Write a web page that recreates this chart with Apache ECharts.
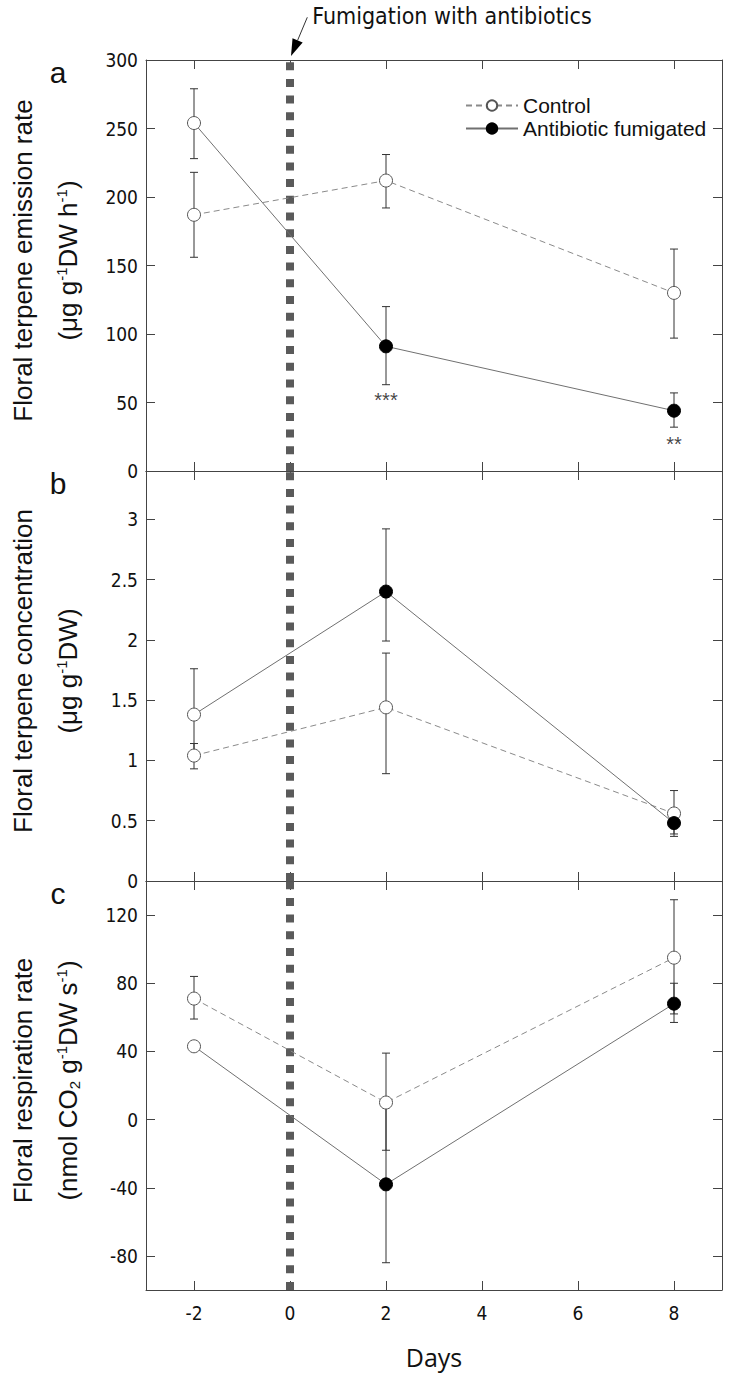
<!DOCTYPE html>
<html>
<head>
<meta charset="utf-8">
<script src="https://cdn.jsdelivr.net/npm/echarts@6/dist/echarts.min.js"></script>
<style>
html,body{margin:0;padding:0;background:#fff;}
#chart{width:731px;height:1381px;}
</style>
</head>
<body>
<div id="chart"></div>
<script>
// ---------------- data ----------------
const days = [-2, 2, 8];
const xTicks = [-2, 0, 2, 4, 6, 8];
const fumigationDay = 0;

const emisTicks = [0, 50, 100, 150, 200, 250, 300];
const emisControl = [187, 212, 130];
const emisControlLo = [156, 192, 97];
const emisControlHi = [218, 231, 162];
const emisAnti = [254, 91, 44];
const emisAntiLo = [228, 63, 32];
const emisAntiHi = [279, 120, 57];
const sigDays = [2, 8];
const sigY = [52, 20];
const sigText = ['***', '**'];

const concTicks = [0, 0.5, 1, 1.5, 2, 2.5, 3];
const concControl = [1.04, 1.44, 0.56];
const concControlLo = [0.93, 0.89, 0.37];
const concControlHi = [1.14, 1.89, 0.75];
const concAnti = [1.38, 2.40, 0.48];
const concAntiLo = [1.00, 1.99, 0.39];
const concAntiHi = [1.76, 2.92, 0.57];

const respTicks = [-80, -40, 0, 40, 80, 120];
const respControl = [71, 10, 95];
const respControlLo = [59, -18, 62];
const respControlHi = [84, 39, 129];
const respAnti = [43, -38, 68];
const respAntiLo = [43, -84, 57];
const respAntiHi = [43, 7, 80];

const seriesNames = ['Control', 'Antibiotic fumigated'];

// ---------------- styling ----------------
const FN = "'Liberation Sans Narrow','Arial Narrow','DejaVu Sans Condensed',sans-serif";
const FS = "'Liberation Sans',Arial,sans-serif";
const AX = '#444';

const panels = [
  {min: 0, max: 300, ticks: emisTicks, ctl: emisControl, ctlLo: emisControlLo, ctlHi: emisControlHi,
   ab: emisAnti, abLo: emisAntiLo, abHi: emisAntiHi, top: 60, height: 411},
  {min: 0, max: 3.4, ticks: concTicks, ctl: concControl, ctlLo: concControlLo, ctlHi: concControlHi,
   ab: concAnti, abLo: concAntiLo, abHi: concAntiHi, top: 471, height: 410},
  {min: -100, max: 140, ticks: respTicks, ctl: respControl, ctlLo: respControlLo, ctlHi: respControlHi,
   ab: respAnti, abLo: respAntiLo, abHi: respAntiHi, top: 881, height: 409}
];

const grids = [], xAxes = [], yAxes = [], series = [];

function errRender(params, api) {
  const x = api.value(0), lo = api.value(1), hi = api.value(2);
  if (lo === hi) return null;
  const a = api.coord([x, lo]), b = api.coord([x, hi]);
  const c = 4;
  const st = {stroke: '#333', lineWidth: 1};
  return {type: 'group', children: [
    {type: 'line', shape: {x1: a[0], y1: a[1], x2: b[0], y2: b[1]}, style: st},
    {type: 'line', shape: {x1: a[0] - c, y1: a[1], x2: a[0] + c, y2: a[1]}, style: st},
    {type: 'line', shape: {x1: b[0] - c, y1: b[1], x2: b[0] + c, y2: b[1]}, style: st}
  ]};
}

panels.forEach((p, k) => {
  grids.push({left: 146, width: 576, top: p.top, height: p.height, containLabel: false, outerBoundsMode: 'none'});
  const isLast = k === panels.length - 1;
  const baseX = {type: 'value', gridIndex: k, min: -3, max: 9,
    axisLine: {show: true, onZero: false, lineStyle: {color: AX, width: 1}},
    axisTick: {show: true, inside: true, length: 9, customValues: xTicks, lineStyle: {color: AX}},
    splitLine: {show: false}};
  xAxes.push(Object.assign({}, baseX, {position: 'bottom',
    axisLabel: {show: isLast, customValues: xTicks, margin: 13, fontSize: 19, fontFamily: FN, color: '#111'},
    name: isLast ? 'Days' : '', nameLocation: 'middle', nameGap: 54,
    nameTextStyle: {fontSize: 25, fontFamily: "'Open Sans',sans-serif", color: '#111'}}));
  xAxes.push(Object.assign({}, baseX, {position: 'top', axisLabel: {show: false}}));
  const baseY = {type: 'value', gridIndex: k, min: p.min, max: p.max,
    axisLine: {show: true, onZero: false, lineStyle: {color: AX, width: 1}},
    axisTick: {show: true, inside: true, length: 9, customValues: p.ticks, lineStyle: {color: AX}},
    splitLine: {show: false}};
  yAxes.push(Object.assign({}, baseY, {position: 'left',
    axisLabel: {show: true, customValues: p.ticks, margin: 8, fontSize: 19, fontFamily: FN, color: '#111'}}));
  yAxes.push(Object.assign({}, baseY, {position: 'right', axisLabel: {show: false}}));

  const xi = 2 * k, yi = 2 * k;
  // error bars
  series.push({type: 'custom', xAxisIndex: xi, yAxisIndex: yi, z: 1, silent: true,
    renderItem: errRender, encode: {x: 0, y: [1, 2]},
    data: days.map((d, i) => [d, p.ctlLo[i], p.ctlHi[i]])});
  series.push({type: 'custom', xAxisIndex: xi, yAxisIndex: yi, z: 1, silent: true,
    renderItem: errRender, encode: {x: 0, y: [1, 2]},
    data: days.map((d, i) => [d, p.abLo[i], p.abHi[i]])});
  // control
  series.push({name: seriesNames[0], type: 'line', xAxisIndex: xi, yAxisIndex: yi, z: 3,
    symbol: 'circle', symbolSize: 13, showAllSymbol: true,
    lineStyle: {color: '#8a8a8a', width: 1, type: [6, 4]},
    itemStyle: {color: '#fff', borderColor: '#555', borderWidth: 1},
    data: days.map((d, i) => [d, p.ctl[i]]),
    markLine: {silent: true, symbol: ['none', 'none'], label: {show: false}, z: 2,
      lineStyle: {color: '#5a5a5a', width: 8, type: [8, 8.7]},
      data: [{xAxis: fumigationDay}]}});
  // antibiotic
  series.push({name: seriesNames[1], type: 'line', xAxisIndex: xi, yAxisIndex: yi, z: 4,
    symbol: 'circle', symbolSize: 13, showAllSymbol: true,
    lineStyle: {color: '#707070', width: 1, type: 'solid'},
    itemStyle: {color: '#000', borderColor: '#000', borderWidth: 1},
    data: days.map((d, i) => d < fumigationDay
      ? {value: [d, p.ab[i]], itemStyle: {color: '#fff', borderColor: '#555'}}
      : [d, p.ab[i]])});
});

// significance asterisks (panel a)
series.push({type: 'scatter', xAxisIndex: 0, yAxisIndex: 0, symbolSize: 0, silent: true, z: 5,
  data: sigDays.map((d, i) => ({value: [d, sigY[i]], label: {formatter: sigText[i]}})),
  label: {show: true, position: 'inside', fontSize: 20, fontFamily: FS, color: '#111'}});

const supStyle = {fontSize: 15, fontFamily: FS, color: '#111', padding: [0, 0, 13, 0]};
const subStyle = {fontSize: 15, fontFamily: FS, color: '#111', padding: [13, 0, 0, 0]};
const tStyle = {fontSize: 26, fontFamily: FS, color: '#111'};

function vtext(x, y, text, rich) {
  return {type: 'text', x: x, y: y, rotation: Math.PI / 2, silent: true,
    style: {text: text, rich: rich, align: 'center', verticalAlign: 'middle',
      fontSize: 26, fontFamily: FS, fill: '#111'}};
}
const rich = {t: tStyle, sup: supStyle, sub: subStyle};

const titles = [
  ['Floral terpene emission rate', '{t|(μg g}{sup|-1}{t|DW h}{sup|-1}{t|)}'],
  ['Floral terpene concentration', '{t|(μg g}{sup|-1}{t|DW)}'],
  ['Floral respiration rate', '{t|(nmol CO}{sub|2}{t| g}{sup|-1}{t|DW s}{sup|-1}{t|)}']
];
const letters = ['a', 'b', 'c'];

const chart = echarts.init(document.getElementById('chart'), null, {renderer: 'svg'});
chart.setOption({
  backgroundColor: '#fff',
  animation: false,
  grid: grids, xAxis: xAxes, yAxis: yAxes, series: series,
  legend: {show: true, orient: 'vertical', left: 460, top: 90, itemWidth: 52, itemHeight: 13, itemGap: 2,
    data: seriesNames, selectedMode: false,
    textStyle: {fontSize: 21, fontFamily: FS, color: '#111', lineHeight: 21}}
});

const graphics = [];
panels.forEach((p, k) => {
  const c = p.top + p.height / 2 - 5;
  graphics.push(vtext(23, c, titles[k][0], rich));
  graphics.push(vtext(68, c, titles[k][1], rich));
  graphics.push({type: 'text', x: 58, y: p.top + 12, silent: true,
    style: {text: letters[k], fontSize: 30, fontFamily: FS, fill: '#111', align: 'center', verticalAlign: 'middle'}});
});
// fumigation arrow annotation
const tip = chart.convertToPixel({xAxisIndex: 1, yAxisIndex: 0}, [fumigationDay, 300]);
const T = [tip[0] + 1, tip[1] - 4];
const ux = -16, uy = 38, L = Math.hypot(ux, uy);
const u = [ux / L, uy / L], n = [u[1], -u[0]];
const B = [T[0] - 17 * u[0], T[1] - 17 * u[1]];
const S = [T[0] - 42 * u[0], T[1] - 42 * u[1]];
graphics.push({type: 'line', silent: true, shape: {x1: S[0], y1: S[1], x2: B[0], y2: B[1]},
  style: {stroke: '#333', lineWidth: 1}});
graphics.push({type: 'polygon', silent: true,
  shape: {points: [T, [B[0] + 5.5 * n[0], B[1] + 5.5 * n[1]], [B[0] - 5.5 * n[0], B[1] - 5.5 * n[1]]]},
  style: {fill: '#000'}});
graphics.push({type: 'text', x: S[0] + 5, y: S[1] - 1, silent: true,
  style: {text: 'Fumigation with antibiotics', fontSize: 23, fontFamily: FN, fill: '#111',
    align: 'left', verticalAlign: 'middle'}});
chart.setOption({graphic: graphics});
</script>
</body>
</html>
